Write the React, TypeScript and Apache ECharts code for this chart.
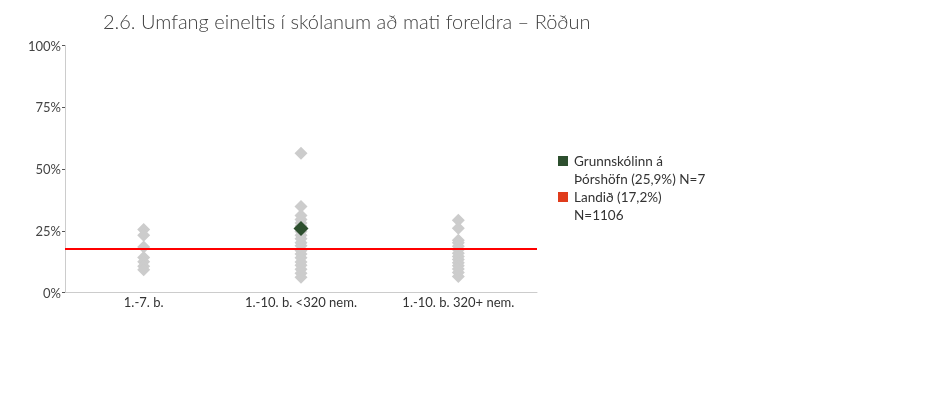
import { useEffect, useRef } from 'react';
import * as echarts from 'echarts';

const categories = ['1.-7. b.', '1.-10. b. <320 nem.', '1.-10. b. 320+ nem.'];
const yTicks = [0, 25, 50, 75, 100];

// percent per school
const group1 = [25.5, 23.2, 18.4, 14.2, 12.5, 10.6, 9.2];
const group2 = [56.4, 34.8, 31.2, 29.6, 28.1, 26.9, 24.7, 23.2, 21.8, 20.1, 18.9, 17.0, 15.6, 14.1, 12.3, 11.0, 9.4, 7.8, 6.2];
const group3 = [29.3, 26.0, 21.2, 20.1, 18.7, 17.3, 15.9, 14.6, 13.4, 12.0, 10.8, 9.5, 8.1, 6.5];

const schoolName = 'Grunnskólinn á\nÞórshöfn (25,9%) N=7';
const schoolCategory = 1;
const schoolValue = 25.9;

const nationName = 'Landið (17,2%)\nN=1106';
const nationLine = 17.9;

const FONT = 'Lato';
const GREEN = '#2d4f2e';
const LEGEND_RED = '#e03c1c';

export default function App() {
  const ref = useRef<HTMLDivElement | null>(null);

  useEffect(() => {
    if (!ref.current) return;
    const chart = echarts.init(ref.current, null, { renderer: 'svg' });
    const gray = [group1, group2, group3].flatMap((vals, i) => vals.map((v) => [i, v]));

    // hand-drawn legend: the icon sits on the first line of a two-line label
    const legendItems = [
      { name: schoolName, color: GREEN },
      { name: nationName, color: LEGEND_RED },
    ];
    const legend = legendItems.map((item, i) => ({
      type: 'group',
      x: 558,
      y: 152 + i * 36,
      children: [
        { type: 'rect', shape: { x: 0, y: 4, width: 10, height: 10 }, style: { fill: item.color } },
        {
          type: 'text',
          x: 16,
          y: 0,
          style: {
            text: item.name,
            fontFamily: FONT,
            fontSize: 13.5,
            lineHeight: 18,
            fill: '#333',
            verticalAlign: 'top',
          },
        },
      ],
    }));

    chart.setOption({
      animation: false,
      textStyle: { fontFamily: FONT },
      title: {
        text: '2.6. Umfang eineltis í skólanum að mati foreldra – Röðun',
        left: 98,
        top: 6,
        textStyle: { fontFamily: FONT, fontSize: 20, fontWeight: 300, color: '#404040' },
      },
      graphic: legend,
      grid: { left: 65, right: 393, top: 45.5, bottom: 127.5 },
      xAxis: {
        type: 'category',
        data: categories,
        axisLine: { lineStyle: { color: '#cccccc' } },
        axisTick: { show: false },
        axisLabel: { color: '#333', fontSize: 13, margin: 3 },
      },
      yAxis: {
        type: 'value',
        min: yTicks[0],
        max: yTicks[yTicks.length - 1],
        interval: 25,
        axisLine: { show: true, lineStyle: { color: '#cccccc' } },
        axisTick: { show: true, length: 3, lineStyle: { color: '#555' } },
        splitLine: { show: false },
        axisLabel: { color: '#444', fontSize: 13, margin: 4, formatter: '{value}%' },
      },
      series: [
        {
          name: 'Skólar',
          type: 'scatter',
          symbol: 'diamond',
          symbolSize: 13,
          itemStyle: { color: '#cccccc', opacity: 1 },
          data: gray,
          z: 2,
        },
        {
          name: nationName,
          type: 'scatter',
          data: [],
          itemStyle: { color: LEGEND_RED, opacity: 1 },
          markLine: {
            silent: true,
            symbol: 'none',
            label: { show: false },
            lineStyle: { color: '#ff0000', width: 2, type: 'solid', opacity: 1 },
            data: [{ yAxis: nationLine }],
          },
          z: 3,
        },
        {
          name: schoolName,
          type: 'scatter',
          symbol: 'diamond',
          symbolSize: 15,
          itemStyle: { color: GREEN, opacity: 1 },
          data: [[schoolCategory, schoolValue]],
          z: 4,
        },
      ],
    });
    return () => chart.dispose();
  }, []);

  return <div ref={ref} style={{ position: 'fixed', left: 0, top: 0, width: 930, height: 420 }} />;
}
